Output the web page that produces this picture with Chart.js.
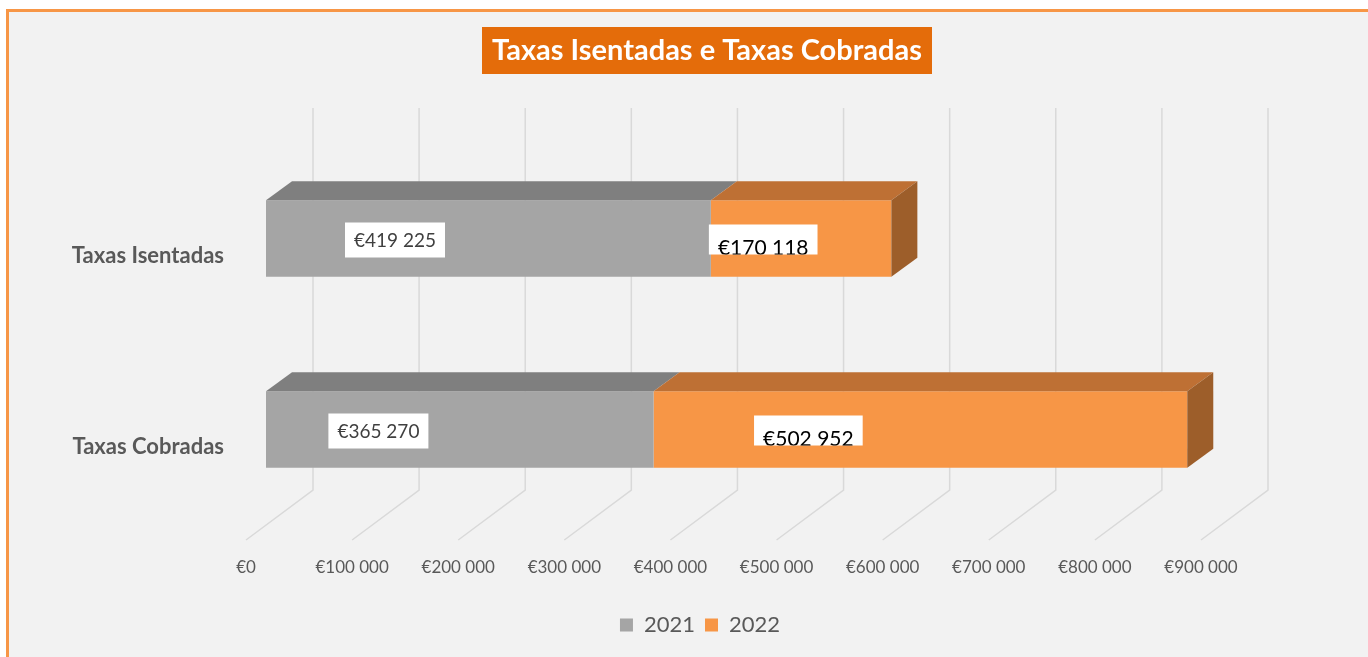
<!DOCTYPE html>
<html>
<head>
<meta charset="utf-8">
<script src="https://cdn.jsdelivr.net/npm/chart.js@4.4.0/dist/chart.umd.min.js"></script>
<style>
  html, body { margin: 0; padding: 0; background: #fff; overflow: hidden; }
  .frame {
    position: absolute; left: 6px; top: 9px; width: 1400px; height: 700px;
    background: #f2f2f2;
    border-left: 3px solid #f79646; border-top: 3px solid #f79646;
  }
  #chart { position: absolute; left: 0; top: 0; }
</style>
</head>
<body>
<div class="frame"></div>
<canvas id="chart" width="1368" height="657"></canvas>
<script>
const chartTitle = "Taxas Isentadas e Taxas Cobradas";
const categories = ["Taxas Isentadas", "Taxas Cobradas"];
const years = ["2021", "2022"];
const values2021 = [419225, 365270];
const values2022 = [170118, 502952];
const axisMin = 0;
const axisMax = 900000;
const axisStep = 100000;

const FONT = "Lato, 'Open Sans', sans-serif";
const DX = 26, DY = -19; // bar depth

function euro(v) {
  return "€" + String(v).replace(/\B(?=(\d{3})+(?!\d))/g, " ");
}

/*=============== BACK WALL + FLOOR GRID ===============*/
const wallGrid = {
  id: "wallGrid",
  beforeDatasetsDraw(chart) {
    const { ctx, chartArea } = chart;
    const xs = chart.scales.x;
    ctx.save();
    ctx.strokeStyle = "#d9d9d9";
    ctx.lineWidth = 1.5;
    xs.ticks.forEach((t) => {
      const px = xs.getPixelForValue(t.value);
      ctx.beginPath();
      ctx.moveTo(px + 47, chartArea.top - 35);
      ctx.lineTo(px + 47, chartArea.bottom - 35);
      ctx.lineTo(px - 20, chartArea.bottom + 15);
      ctx.stroke();
    });
    ctx.restore();
  },
};

/*=============== 3D FACES ===============*/
const bars3d = {
  id: "bars3d",
  afterDatasetsDraw(chart) {
    const ctx = chart.ctx;
    const last = chart.data.datasets.length - 1;
    ctx.save();
    chart.data.datasets.forEach((ds, di) => {
      chart.getDatasetMeta(di).data.forEach((bar) => {
        const top = bar.y - bar.height / 2;
        const bottom = bar.y + bar.height / 2;
        // top face
        ctx.fillStyle = ds.topColor;
        ctx.beginPath();
        ctx.moveTo(bar.base, top);
        ctx.lineTo(bar.base + DX, top + DY);
        ctx.lineTo(bar.x + DX, top + DY);
        ctx.lineTo(bar.x, top);
        ctx.closePath();
        ctx.fill();
        // right side face only on the end of the stack
        if (di === last) {
          ctx.fillStyle = ds.sideColor;
          ctx.beginPath();
          ctx.moveTo(bar.x, top);
          ctx.lineTo(bar.x + DX, top + DY);
          ctx.lineTo(bar.x + DX, bottom + DY);
          ctx.lineTo(bar.x, bottom);
          ctx.closePath();
          ctx.fill();
        }
      });
    });
    ctx.restore();
  },
};

/*=============== TITLE + VALUE LABELS ===============*/
const labelsAndTitle = {
  id: "labelsAndTitle",
  afterDraw(chart) {
    const ctx = chart.ctx;
    ctx.save();

    // title box
    ctx.font = "bold 29px " + FONT;
    const tw = ctx.measureText(chartTitle).width;
    const cx = 707;
    const bw = tw + 20;
    ctx.fillStyle = "#e46c0a";
    ctx.fillRect(cx - bw / 2, 27, bw, 47);
    ctx.fillStyle = "#ffffff";
    ctx.textAlign = "center";
    ctx.textBaseline = "middle";
    ctx.fillText(chartTitle, cx, 51);

    // value labels
    chart.data.datasets.forEach((ds, di) => {
      chart.getDatasetMeta(di).data.forEach((bar, i) => {
        const text = euro(ds.data[i]);
        const lx = bar.base + 0.29 * (bar.x - bar.base);
        if (di === 0) {
          ctx.font = "19px " + FONT;
          const w = ctx.measureText(text).width + 18;
          ctx.fillStyle = "#ffffff";
          ctx.fillRect(lx - w / 2, bar.y - 16, w, 35);
          ctx.fillStyle = "#404040";
          ctx.textBaseline = "middle";
          ctx.fillText(text, lx, bar.y + 2);
        } else {
          ctx.font = "21px " + FONT;
          const w = ctx.measureText(text).width + 18;
          const bx = lx - w / 2, by = bar.y - 14, bh = 30;
          ctx.fillStyle = "#ffffff";
          ctx.fillRect(bx, by, w, bh);
          ctx.save();
          ctx.beginPath();
          ctx.rect(bx, by, w, bh);
          ctx.clip();
          ctx.fillStyle = "#000000";
          ctx.textBaseline = "alphabetic";
          ctx.fillText(text, lx, by + bh);
          ctx.restore();
        }
      });
    });
    ctx.restore();
  },
};

const ctx = document.getElementById("chart").getContext("2d");
const chart = new Chart(ctx, {
  type: "bar",
  data: {
    labels: categories,
    datasets: [
      {
        label: years[0],
        data: values2021,
        backgroundColor: "#a5a5a5",
        topColor: "#7f7f7f",
        sideColor: "#6e6e6e",
        borderWidth: 0,
        barPercentage: 0.4,
        categoryPercentage: 1,
      },
      {
        label: years[1],
        data: values2022,
        backgroundColor: "#f79646",
        topColor: "#be7034",
        sideColor: "#9d5e2a",
        borderWidth: 0,
        barPercentage: 0.4,
        categoryPercentage: 1,
      },
    ],
  },
  options: {
    indexAxis: "y",
    responsive: false,
    animation: false,
    devicePixelRatio: 1,
    layout: {
      padding: { left: 40, right: 8, top: 143, bottom: 11 },
    },
    scales: {
      x: {
        stacked: true,
        min: axisMin,
        max: axisMax,
        grid: { display: false, drawTicks: false },
        border: { display: false },
        ticks: {
          stepSize: axisStep,
          color: "#595959",
          font: { family: FONT, size: 17 },
          padding: 32,
          labelOffset: -20,
          maxRotation: 0,
          autoSkip: false,
          callback: (v) => euro(v),
        },
        afterFit: (s) => { s.height = 79; },
      },
      y: {
        stacked: true,
        grid: { display: false, drawTicks: false },
        border: { display: false },
        ticks: {
          color: "#595959",
          font: { family: FONT, size: 22, weight: "bold" },
          padding: 42,
          labelOffset: 17,
        },
        afterFit: (s) => { s.width = 226; },
      },
      // empty spacer on the right so the chart area ends at €900 000
      spacer: {
        type: "linear",
        position: "right",
        display: true,
        grid: { display: false, drawTicks: false },
        border: { display: false },
        ticks: { display: false },
        afterFit: (s) => { s.width = 139; },
      },
    },
    plugins: {
      title: { display: false },
      tooltip: { enabled: false },
      legend: {
        position: "bottom",
        labels: {
          boxWidth: 13,
          boxHeight: 13,
          padding: 10,
          color: "#595959",
          font: { family: FONT, size: 22 },
        },
      },
    },
  },
  plugins: [wallGrid, bars3d, labelsAndTitle],
});
</script>
</body>
</html>
